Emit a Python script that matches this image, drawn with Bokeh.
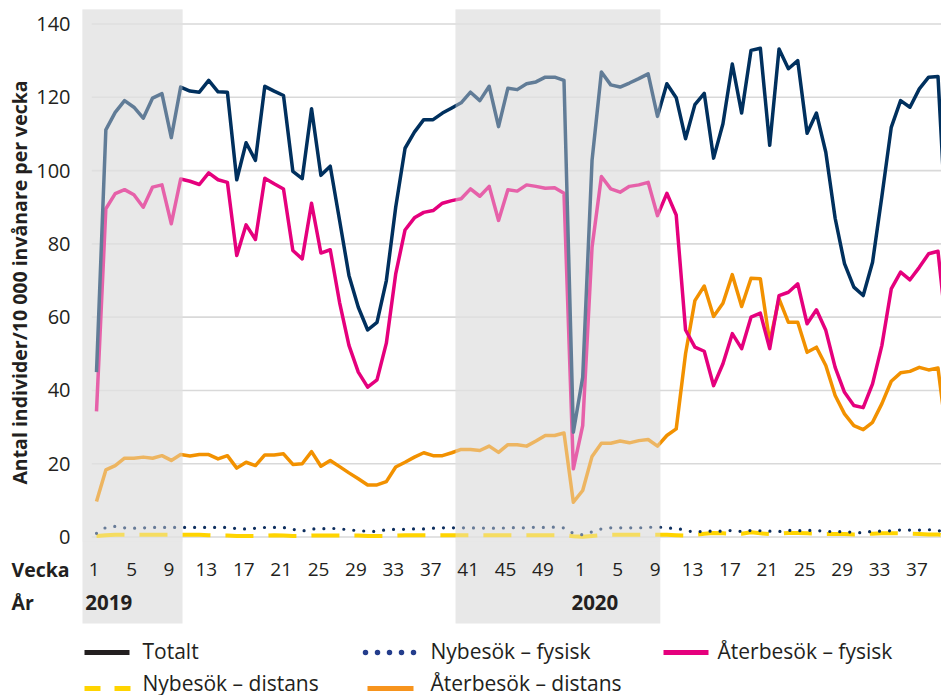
import math
from bokeh.plotting import figure
from bokeh.models import Range1d
from bokeh.core.properties import value
from bokeh.embed import file_html
from bokeh.resources import INLINE

# ---------------- data ----------------
weeks_2019 = list(range(1, 53))
weeks_2020 = list(range(1, 41))

totalt = [45.0, 111.1, 115.9, 119.1, 117.3, 114.3, 119.8, 121.0, 109.0, 122.8,
          121.7, 121.4, 124.6, 121.5, 121.4, 97.5, 107.6, 102.8, 123.0, 121.7,
          120.5, 99.8, 97.8, 116.9, 98.7, 101.2, 86.4, 71.4, 62.7, 56.5,
          58.6, 70.0, 90.0, 106.1, 110.5, 113.9, 113.9, 115.7, 117.1, 118.5,
          121.4, 119.1, 123.0, 112.0, 122.5, 122.1, 123.7, 124.2, 125.5, 125.5,
          124.6, 28.6,
          43.6, 102.8, 126.9, 123.4, 122.8, 123.9, 125.1, 126.4, 114.8, 123.7,
          119.9, 108.7, 118.0, 121.1, 103.4, 112.8, 129.1, 115.7, 132.8, 133.4,
          106.9, 133.2, 127.8, 130.0, 110.2, 115.7, 105.0, 87.0, 74.6, 68.2,
          65.9, 75.0, 93.0, 111.8, 119.1, 117.3, 122.3, 125.5, 125.7, 78.0]

aterbesok_fysisk = [34.3, 89.6, 93.7, 94.8, 93.4, 90.0, 95.5, 96.1, 85.5, 97.7,
                    97.1, 96.2, 99.4, 97.5, 96.8, 76.8, 85.2, 81.2, 97.9, 96.4,
                    95.0, 78.2, 75.9, 91.1, 77.5, 78.4, 64.0, 52.3, 45.0, 40.9,
                    42.9, 52.9, 71.8, 83.8, 87.1, 88.6, 89.1, 91.1, 91.8, 92.3,
                    95.0, 93.0, 95.7, 86.4, 94.8, 94.4, 96.1, 95.7, 95.2, 95.3,
                    93.8, 18.6,
                    30.4, 79.1, 98.4, 95.0, 94.1, 95.7, 96.1, 96.8, 87.7, 93.8,
                    87.9, 56.5, 51.8, 50.7, 41.3, 47.3, 55.5, 51.4, 60.0, 61.1,
                    51.4, 65.9, 66.8, 69.1, 58.2, 62.0, 56.4, 46.3, 39.5, 35.9,
                    35.3, 41.8, 52.3, 67.7, 72.3, 70.2, 73.6, 77.3, 78.0, 54.0]

aterbesok_distans = [9.7, 18.3, 19.5, 21.5, 21.5, 21.8, 21.5, 22.2, 20.9, 22.5,
                     22.1, 22.5, 22.5, 21.3, 22.2, 18.8, 20.4, 19.5, 22.4, 22.4,
                     22.7, 19.8, 20.0, 23.3, 19.3, 20.9, 19.2, 17.5, 15.9, 14.2,
                     14.2, 15.1, 19.1, 20.4, 21.8, 23.0, 22.2, 22.2, 23.0, 23.9,
                     23.9, 23.6, 24.8, 23.1, 25.2, 25.2, 24.8, 26.2, 27.7, 27.7,
                     28.4, 9.5,
                     12.7, 22.0, 25.6, 25.6, 26.2, 25.7, 26.3, 26.6, 24.8, 27.7,
                     29.5, 50.0, 64.5, 68.5, 60.2, 63.8, 71.6, 62.9, 70.6, 70.5,
                     53.2, 65.0, 58.6, 58.6, 50.4, 51.8, 46.8, 38.6, 33.6, 30.4,
                     29.3, 31.3, 36.4, 42.5, 44.8, 45.2, 46.3, 45.6, 46.1, 26.0]

nybesok_fysisk = [1.0, 2.6, 2.9, 2.5, 2.4, 2.5, 2.6, 2.6, 2.6, 2.6,
                  2.6, 2.6, 2.6, 2.6, 2.6, 2.3, 2.2, 2.4, 2.6, 2.6,
                  2.6, 2.1, 1.6, 2.2, 2.2, 2.4, 2.2, 2.0, 1.7, 1.6,
                  1.5, 2.0, 2.1, 2.1, 2.2, 2.2, 2.4, 2.5, 2.5, 2.5,
                  2.5, 2.4, 2.5, 2.3, 2.6, 2.5, 2.5, 2.7, 2.6, 2.7,
                  2.5, 1.0,
                  0.6, 1.4, 2.2, 2.5, 2.5, 2.5, 2.5, 2.6, 2.8, 2.4,
                  2.4, 1.8, 1.3, 1.6, 1.6, 1.6, 1.8, 1.5, 1.8, 1.7,
                  1.6, 1.5, 1.8, 1.7, 1.8, 1.8, 1.5, 1.5, 1.4, 1.3,
                  1.1, 1.6, 1.6, 1.7, 1.9, 1.9, 1.9, 2.0, 1.8, 1.0]

nybesok_distans = [0.3, 0.5, 0.6, 0.6, 0.6, 0.6, 0.6, 0.6, 0.6, 0.6,
                   0.6, 0.6, 0.5, 0.4, 0.4, 0.3, 0.3, 0.3, 0.4, 0.5,
                   0.4, 0.3, 0.3, 0.4, 0.4, 0.4, 0.4, 0.4, 0.4, 0.3,
                   0.3, 0.3, 0.4, 0.5, 0.5, 0.5, 0.5, 0.5, 0.5, 0.5,
                   0.5, 0.5, 0.5, 0.5, 0.5, 0.5, 0.5, 0.5, 0.5, 0.5,
                   0.5, 0.2,
                   0.1, 0.3, 0.5, 0.6, 0.6, 0.6, 0.6, 0.6, 0.6, 0.6,
                   0.5, 0.4, 0.6, 0.9, 1.1, 1.0, 0.9, 0.9, 1.3, 1.0,
                   0.8, 0.9, 1.1, 1.1, 1.0, 0.9, 0.8, 0.8, 0.8, 0.7,
                   0.8, 0.9, 1.0, 1.0, 1.0, 0.9, 0.8, 0.7, 0.7, 0.3]

y_ticks = [0, 20, 40, 60, 80, 100, 120, 140]
week_labels_2019 = [1, 5, 9, 13, 17, 21, 25, 29, 33, 37, 41, 45, 49]
week_labels_2020 = [1, 5, 9, 13, 17, 21, 25, 29, 33, 37]
years = ["2019", "2020"]
# shaded periods, in week-index units (0 = 2019 week 1)
shade_start = [-1.5, 38.4]
shade_end = [9.2, 60.3]

y_title = "Antal individer/10 000 invånare per vecka"

# ---------------- layout constants ----------------
W, H = 941, 695
PL, PT = 0, 0            # page offset of the canvas
X0, DX = 96.0, 9.35      # page x of 2019 week 1, px per week
Y0, DY = 536.5, 3.664    # page y of value 0, px per unit

FONT = value("Open Sans")
TXT = "#231f20"
NAVY = "#00305e"
PINK = "#e5007d"
ORANGE = "#f29100"
YELLOW = "#ffd400"
DOTS = "#0c2d5e"
SHADE = "#e8e8e8"

n19 = len(weeks_2019)
idx = list(range(len(totalt)))

x_rng = Range1d((PL - X0) / DX, (PL + W - X0) / DX)
y_rng = Range1d((Y0 - (PT + H)) / DY, (Y0 - PT) / DY)

p = figure(width=W, height=H, x_range=x_rng, y_range=y_rng,
           output_backend="svg", toolbar_location=None, min_border=0,
           x_axis_location=None, y_axis_location=None,
           outline_line_color=None, background_fill_color="white",
           border_fill_color="white")
p.extra_x_ranges = {"px": Range1d(PL, PL + W)}
p.extra_y_ranges = {"px": Range1d(PT + H, PT)}
p.grid.visible = False

# shading (under everything)
p.quad(left=shade_start, right=shade_end, top=[9] * 2, bottom=[623] * 2,
       y_range_name="px", fill_color=SHADE, line_color=None, level="image")

# gridlines
grid_x0 = -0.5
p.segment(x0=[grid_x0] * len(y_ticks), x1=[x_rng.end] * len(y_ticks),
          y0=y_ticks, y1=y_ticks, line_color="#d9d9d9", line_width=1.6,
          level="underlay")

# y tick labels
p.text(x=[70] * len(y_ticks), y=y_ticks, text=[str(t) for t in y_ticks],
       x_range_name="px", text_align="right", text_baseline="middle",
       text_font=FONT, text_font_size="20px", text_color=TXT)

# y title
p.text(x=[19], y=[282], text=[y_title], angle=math.pi / 2,
       x_range_name="px", y_range_name="px", text_align="center",
       text_baseline="middle", text_font=FONT, text_font_size="19.5px",
       text_font_style="bold", text_color=TXT)

# series
p.line(idx, aterbesok_distans, line_color=ORANGE, line_width=3.5, line_join="round")
p.line(idx, aterbesok_fysisk, line_color=PINK, line_width=3.5, line_join="round")
p.line(idx, totalt, line_color=NAVY, line_width=3.5, line_join="round")
p.line(idx, nybesok_distans, line_color=YELLOW, line_width=4, line_dash="28 15")
p.line(idx, nybesok_fysisk, line_color=DOTS, line_width=3.2, line_dash="0 10",
       line_cap="round")

# wash-out overlay on shaded periods
p.quad(left=shade_start, right=shade_end, top=[9] * 2, bottom=[541] * 2,
       y_range_name="px", fill_color=SHADE, fill_alpha=0.42, line_color=None)

# week tick labels
wk_x = [w - 1 - 0.25 for w in week_labels_2019] + [n19 + w - 1 - 0.25 for w in week_labels_2020]
wk_t = [str(w) for w in week_labels_2019] + [str(w) for w in week_labels_2020]
p.text(x=wk_x, y=[569] * len(wk_x), text=wk_t, y_range_name="px",
       text_align="center", text_baseline="middle", text_font=FONT,
       text_font_size="19px", text_color=TXT)

# year labels
p.text(x=[1.3, n19 + 1.3], y=[602] * 2, text=years, y_range_name="px",
       text_align="center", text_baseline="middle", text_font=FONT,
       text_font_size="20.5px", text_font_style="bold", text_color=TXT)
p.text(x=[11, 11], y=[569, 602], text=["Vecka", "År"], x_range_name="px",
       y_range_name="px", text_align="left", text_baseline="middle",
       text_font=FONT, text_font_size="19.5px", text_font_style="bold",
       text_color=TXT)

# legend (page pixel coordinates)
R1, R2 = 652, 688
p.line([84, 129], [R1, R1], x_range_name="px", y_range_name="px",
       line_color="#231f20", line_width=5)
p.line([365, 414], [R1, R1], x_range_name="px", y_range_name="px",
       line_color="#243d8c", line_width=5.5, line_dash="0 12", line_cap="round")
p.line([663, 708], [R1, R1], x_range_name="px", y_range_name="px",
       line_color=PINK, line_width=5)
p.line([84, 130], [R2, R2], x_range_name="px", y_range_name="px",
       line_color=YELLOW, line_width=5, line_dash="16 14")
p.line([367, 413], [R2, R2], x_range_name="px", y_range_name="px",
       line_color="#f7941d", line_width=5)
legend_labels = ["Totalt", "Nybesök – fysisk", "Återbesök – fysisk",
                 "Nybesök – distans", "Återbesök – distans"]
p.text(x=[142, 430, 717, 142, 430], y=[650.5, 650.5, 650.5, 682, 682],
       text=legend_labels, x_range_name="px", y_range_name="px",
       text_align="left", text_baseline="middle", text_font=FONT,
       text_font_size="21px", text_color=TXT)

open("out.html", "w").write(file_html(p, INLINE))
